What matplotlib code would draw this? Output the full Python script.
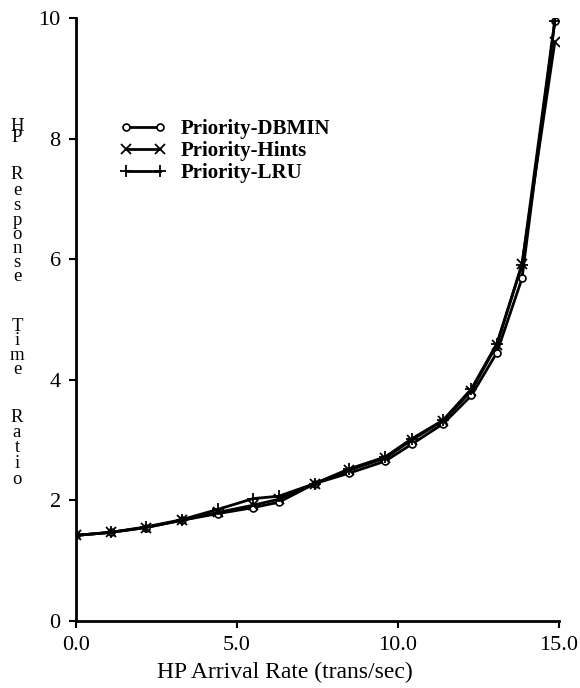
import matplotlib
matplotlib.use('Agg')
import matplotlib.pyplot as plt

# data
rate = [0.0, 1.08, 2.17, 3.28, 4.4, 5.5, 6.3, 7.42, 8.47, 9.6, 10.42, 11.4, 12.28, 13.07, 13.85, 14.87]
dbmin = [1.42, 1.47, 1.55, 1.67, 1.78, 1.88, 1.97, 2.28, 2.45, 2.65, 2.93, 3.27, 3.74, 4.45, 5.68, 9.95]
hints = [1.42, 1.47, 1.55, 1.67, 1.80, 1.92, 2.02, 2.28, 2.50, 2.70, 3.00, 3.32, 3.82, 4.58, 5.92, 9.60]
lru = [1.42, 1.47, 1.56, 1.68, 1.85, 2.03, 2.07, 2.28, 2.52, 2.72, 3.02, 3.33, 3.85, 4.60, 5.90, 9.95]

xticks = [0, 5, 10, 15]
xticklabels = ['0.0', '5.0', '10.0', '15.0']
yticks = [0, 2, 4, 6, 8, 10]

plt.rcParams['font.family'] = ['Liberation Serif', 'DejaVu Serif']

fig = plt.figure(figsize=(5.8, 6.88), dpi=100)
W, H = 580, 688
ax = fig.add_axes([76 / W, 1 - 621 / H, 483 / W, 603 / H])

ax.plot(rate, dbmin, color='black', lw=2, marker='o', ms=5, mfc='white', mec='black', mew=1.2,
        label='Priority-DBMIN')
ax.plot(rate, hints, color='black', lw=2, marker='x', ms=7, mew=1.3, label='Priority-Hints')
ax.plot(rate, lru, color='black', lw=2, marker='+', ms=8, mew=1.3, label='Priority-LRU')

ax.set_xlim(0, 15)
ax.set_ylim(0, 10)
ax.set_xticks(xticks)
ax.set_xticklabels(xticklabels)
ax.set_yticks(yticks)
ax.tick_params(direction='out', length=5, width=1.5, labelsize=16, pad=6)
for s in ['top', 'right']:
    ax.spines[s].set_visible(False)
for s in ['left', 'bottom']:
    ax.spines[s].set_linewidth(2)

ax.set_xlabel('HP Arrival Rate (trans/sec)', fontsize=17)
ax.xaxis.set_label_coords(0.433, -0.068)

# legend
leg = ax.legend(loc='upper left', bbox_to_anchor=(0.07, 0.85), frameon=False,
                prop={'weight': 'bold', 'size': 15}, numpoints=2, handlelength=2.2,
                handletextpad=0.7, labelspacing=0.1, borderpad=0)

# vertical stacked y label, one letter per line like the original
label_chars = list('HP') + list('Response') + list('Time') + list('Ratio')
label_ypix = [126, 137,
              174, 190, 205, 220, 234, 248, 262, 276,
              326, 340, 355, 369,
              417, 432, 447, 463, 479]
for ch, yp in zip(label_chars, label_ypix):
    fig.text(17 / W, 1 - (yp + 5) / H, ch, fontsize=13.5, ha='center', va='baseline')

fig.savefig('out.png', dpi=100)
